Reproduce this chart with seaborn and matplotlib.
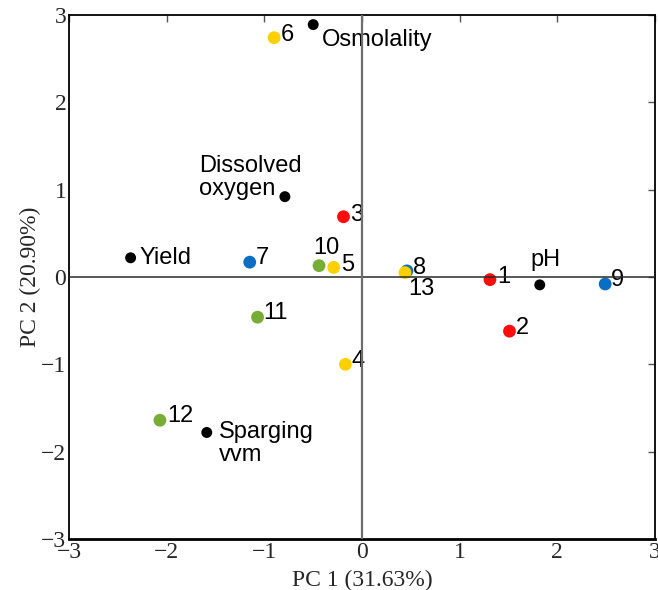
import matplotlib
matplotlib.use("Agg")
import matplotlib.pyplot as plt
import seaborn as sns
import pandas as pd

# ---- data ----
labels = ["1", "2", "3", "4", "5", "6", "7", "8", "9", "10", "11", "12", "13",
          "Osmolality", "Dissolved\noxygen", "Yield", "pH", "Sparging\nvvm"]
pc1 = [1.31, 1.51, -0.19, -0.17, -0.29, -0.90, -1.15, 0.46, 2.49, -0.44, -1.07, -2.07, 0.44,
       -0.50, -0.79, -2.37, 1.82, -1.59]
pc2 = [-0.03, -0.62, 0.69, -1.00, 0.11, 2.74, 0.17, 0.07, -0.08, 0.13, -0.46, -1.64, 0.05,
       2.89, 0.92, 0.22, -0.09, -1.78]
groups = ["red", "red", "red", "yellow", "yellow", "yellow", "blue", "blue", "blue",
          "green", "green", "green", "yellow",
          "var", "var", "var", "var", "var"]
kind = ["sample"] * 13 + ["variable"] * 5

df = pd.DataFrame({"label": labels, "PC1": pc1, "PC2": pc2, "group": groups, "kind": kind})

palette = {"red": "#ff0d0d", "yellow": "#ffd000", "blue": "#0a6fc2",
           "green": "#78ad35", "var": "#000000"}

# label offsets in pixels (dx, dy) and alignment
offsets = {
    "6": (7, 3, "left"), "Osmolality": (9, -15, "left"),
    "Dissolved\noxygen": (-86, 19, "left"), "3": (7, 2, "left"),
    "Yield": (9, 0, "left"), "7": (6, 4, "left"), "10": (-6, 18, "left"),
    "5": (7, 2, "left"), "8": (6, 3, "left"), "13": (3, -16, "left"),
    "1": (7, 3, "left"), "pH": (-9, 25, "left"), "9": (6, 4, "left"),
    "2": (6, 3, "left"), "11": (6, 4, "left"), "4": (6, 3, "left"),
    "12": (7, 4, "left"), "Sparging\nvvm": (12, -11, "left"),
}

sns.set_style("white")
plt.rcParams["font.family"] = ["Liberation Sans", "DejaVu Sans"]

fig = plt.figure(figsize=(6.58, 5.90), dpi=100)
ax = fig.add_axes([0.105, 0.0864, 0.8904, 0.8882])

sns.scatterplot(data=df, x="PC1", y="PC2", hue="group", palette=palette,
                size="kind", sizes={"sample": 85, "variable": 62},
                linewidth=0, legend=False, ax=ax, zorder=3)

for _, r in df.iterrows():
    dx, dy, ha = offsets[r["label"]]
    ax.annotate(r["label"], (r["PC1"], r["PC2"]), xytext=(dx, dy),
                textcoords="offset pixels", ha=ha, va="center",
                fontsize=17, color="black", linespacing=1.05, zorder=4)

ax.axhline(0, color="#2a2a2a", lw=1.1, zorder=5)
ax.axvline(0, color="#6e6e6e", lw=1.6, zorder=5)

ax.set_xlim(-3, 3)
ax.set_ylim(-3, 3)
ticks = [-3, -2, -1, 0, 1, 2, 3]
ax.set_xticks(ticks)
ax.set_yticks(ticks)
serif = {"family": ["Liberation Serif", "DejaVu Serif"], "size": 17}
ax.set_xticklabels([f"{t}".replace("-", "\u2212") for t in ticks], fontdict=serif)
ax.set_yticklabels([f"{t}".replace("-", "\u2212") for t in ticks], fontdict=serif)
ax.tick_params(direction="in", length=5, width=1, color="#555555",
               top=True, right=True, pad=2)
ax.set_xlabel("PC 1 (31.63%)", fontdict=serif, labelpad=5)
ax.set_ylabel("PC 2 (20.90%)", fontdict=serif, labelpad=0)
for s in ax.spines.values():
    s.set_color("black")
    s.set_linewidth(1.3)
ax.spines["bottom"].set_linewidth(2)

fig.savefig("out.png", dpi=100)
